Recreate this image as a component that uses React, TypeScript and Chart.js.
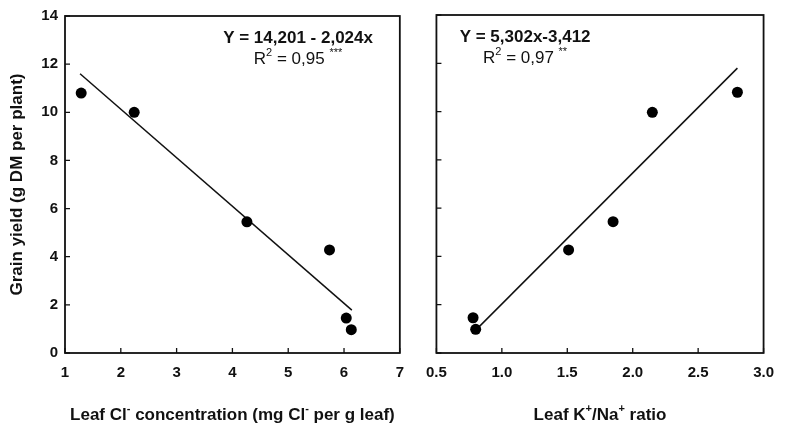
import { useEffect, useRef } from "react";
import { Chart, registerables } from "chart.js";

Chart.register(...registerables);

// ---------- data ----------
const yMin = 0;
const yMax = 14;
const yStep = 2;

// Left panel: leaf Cl- concentration vs grain yield
const clXMin = 1;
const clXMax = 7;
const clXStep = 1;
const clX = [1.29, 2.24, 4.26, 5.74, 6.04, 6.13];
const clY = [10.8, 10.0, 5.45, 4.28, 1.45, 0.97];
const clFitX = [1.27, 6.14];
const clFitY = [11.6, 1.78];

// Right panel: leaf K+/Na+ ratio vs grain yield
const knXMin = 0.5;
const knXMax = 3.0;
const knXStep = 0.5;
const knX = [0.78, 0.8, 1.51, 1.85, 2.15, 2.8];
const knY = [1.46, 0.98, 4.27, 5.44, 9.97, 10.8];
const knFitX = [0.81, 2.8];
const knFitY = [1.0, 11.8];

const yTitle = "Grain yield (g DM per plant)";

type Seg = { t: string; sup?: boolean };

const clEq1: Seg[] = [{ t: "Y = 14,201 - 2,024x" }];
const clEq2: Seg[] = [{ t: "R" }, { t: "2", sup: true }, { t: " = 0,95 " }, { t: "***", sup: true }];
const clTitle: Seg[] = [
  { t: "Leaf Cl" },
  { t: "-", sup: true },
  { t: " concentration (mg Cl" },
  { t: "-", sup: true },
  { t: " per g leaf)" },
];

const knEq1: Seg[] = [{ t: "Y = 5,302x-3,412" }];
const knEq2: Seg[] = [{ t: "R" }, { t: "2", sup: true }, { t: " = 0,97 " }, { t: "**", sup: true }];
const knTitle: Seg[] = [
  { t: "Leaf K" },
  { t: "+", sup: true },
  { t: "/Na" },
  { t: "+", sup: true },
  { t: " ratio" },
];

// ---------- styling ----------
const FAMILY = "'Liberation Sans', Arial, Helvetica, sans-serif";
const INK = "#111111";
const TICK = 5;

function drawRich(
  ctx: CanvasRenderingContext2D,
  segs: Seg[],
  cx: number,
  cy: number,
  size: number,
  weight: string
) {
  const supSize = Math.round(size * 0.62);
  const fontFor = (sup?: boolean) => `${weight} ${sup ? supSize : size}px ${FAMILY}`;
  let total = 0;
  const widths: number[] = [];
  for (const s of segs) {
    ctx.font = fontFor(s.sup);
    const w = ctx.measureText(s.t).width;
    widths.push(w);
    total += w;
  }
  let x = cx - total / 2;
  const base = cy + size * 0.358;
  ctx.textAlign = "left";
  ctx.textBaseline = "alphabetic";
  segs.forEach((s, i) => {
    ctx.font = fontFor(s.sup);
    ctx.fillText(s.t, x, s.sup ? base - size * 0.45 : base);
    x += widths[i];
  });
}

type Panel = {
  x: number[];
  y: number[];
  fitX: number[];
  fitY: number[];
  xMin: number;
  xMax: number;
  xStep: number;
  decimals: number;
  yWidth: number;
  padRight: number;
  showYLabels: boolean;
  eq1: Seg[];
  eq2: Seg[];
  eqFrac: number;
  xTitle: Seg[];
};

function decorPlugin(p: Panel) {
  return {
    id: "panelDecor",
    afterDraw(chart: any) {
      const { ctx, chartArea: a, scales } = chart;
      ctx.save();
      ctx.strokeStyle = INK;
      ctx.lineWidth = 1.8;
      ctx.strokeRect(a.left, a.top, a.right - a.left, a.bottom - a.top);
      ctx.lineWidth = 1.3;
      ctx.beginPath();
      for (const t of scales.x.ticks) {
        const px = scales.x.getPixelForValue(t.value);
        ctx.moveTo(px, a.bottom);
        ctx.lineTo(px, a.bottom - TICK);
      }
      for (const t of scales.y.ticks) {
        const py = scales.y.getPixelForValue(t.value);
        ctx.moveTo(a.left, py);
        ctx.lineTo(a.left + TICK, py);
      }
      ctx.stroke();
      ctx.fillStyle = INK;
      const cx = a.left + (a.right - a.left) * p.eqFrac;
      drawRich(ctx, p.eq1, cx, a.top + 21, 17, "bold");
      drawRich(ctx, p.eq2, cx, a.top + 42, 17, "normal");
      drawRich(ctx, p.xTitle, (a.left + a.right) / 2, 414, 17, "bold");
      ctx.restore();
    },
  };
}

function buildChart(canvas: HTMLCanvasElement, p: Panel) {
  return new Chart(canvas, {
    type: "scatter",
    data: {
      datasets: [
        {
          type: "line",
          data: p.fitX.map((x, i) => ({ x, y: p.fitY[i] })),
          borderColor: INK,
          borderWidth: 1.5,
          pointRadius: 0,
          fill: false,
          tension: 0,
          order: 2,
        } as any,
        {
          type: "scatter",
          data: p.x.map((x, i) => ({ x, y: p.y[i] })),
          backgroundColor: "#000000",
          borderWidth: 0,
          pointRadius: 5.5,
          order: 1,
        },
      ],
    },
    options: {
      animation: false,
      responsive: false,
      events: [],
      layout: { padding: { top: 15, right: p.padRight, left: 0, bottom: 0 } },
      plugins: {
        legend: { display: false },
        tooltip: { enabled: false },
      },
      scales: {
        x: {
          type: "linear",
          min: p.xMin,
          max: p.xMax,
          grid: { display: false, drawTicks: false },
          border: { display: false },
          ticks: {
            stepSize: p.xStep,
            padding: 11,
            autoSkip: false,
            maxRotation: 0,
            color: INK,
            font: { family: FAMILY, size: 15, weight: "bold" },
            callback: (v: any) => Number(v).toFixed(p.decimals),
          },
          afterFit: (s: any) => {
            s.height = 72;
          },
        },
        y: {
          type: "linear",
          min: yMin,
          max: yMax,
          grid: { display: false, drawTicks: false },
          border: { display: false },
          ticks: {
            display: p.showYLabels,
            stepSize: yStep,
            padding: 7,
            color: INK,
            font: { family: FAMILY, size: 15, weight: "bold" },
          },
          title: {
            display: p.showYLabels,
            text: yTitle,
            color: INK,
            font: { family: FAMILY, size: 17, weight: "bold" },
            padding: { top: 7, bottom: 0 },
          },
          afterFit: (s: any) => {
            s.width = p.yWidth;
          },
        },
      },
    } as any,
    plugins: [decorPlugin(p)],
  });
}

const leftPanel: Panel = {
  x: clX,
  y: clY,
  fitX: clFitX,
  fitY: clFitY,
  xMin: clXMin,
  xMax: clXMax,
  xStep: clXStep,
  decimals: 0,
  yWidth: 65,
  padRight: 11,
  showYLabels: true,
  eq1: clEq1,
  eq2: clEq2,
  eqFrac: 0.696,
  xTitle: clTitle,
};

const rightPanel: Panel = {
  x: knX,
  y: knY,
  fitX: knFitX,
  fitY: knFitY,
  xMin: knXMin,
  xMax: knXMax,
  xStep: knXStep,
  decimals: 1,
  yWidth: 19,
  padRight: 12,
  showYLabels: false,
  eq1: knEq1,
  eq2: knEq2,
  eqFrac: 0.271,
  xTitle: knTitle,
};

export default function App() {
  const leftRef = useRef<HTMLCanvasElement>(null);
  const rightRef = useRef<HTMLCanvasElement>(null);

  useEffect(() => {
    const a = buildChart(leftRef.current!, leftPanel);
    const b = buildChart(rightRef.current!, rightPanel);
    return () => {
      a.destroy();
      b.destroy();
    };
  }, []);

  return (
    <div
      style={{
        position: "absolute",
        left: 0,
        top: 0,
        width: 785,
        height: 425,
        background: "#ffffff",
        overflow: "hidden",
      }}
    >
      <canvas
        ref={leftRef}
        width={415}
        height={425}
        style={{ position: "absolute", left: 0, top: 0, width: 415, height: 425 }}
      />
      <canvas
        ref={rightRef}
        width={370}
        height={425}
        style={{ position: "absolute", left: 415, top: 0, width: 370, height: 425 }}
      />
    </div>
  );
}
